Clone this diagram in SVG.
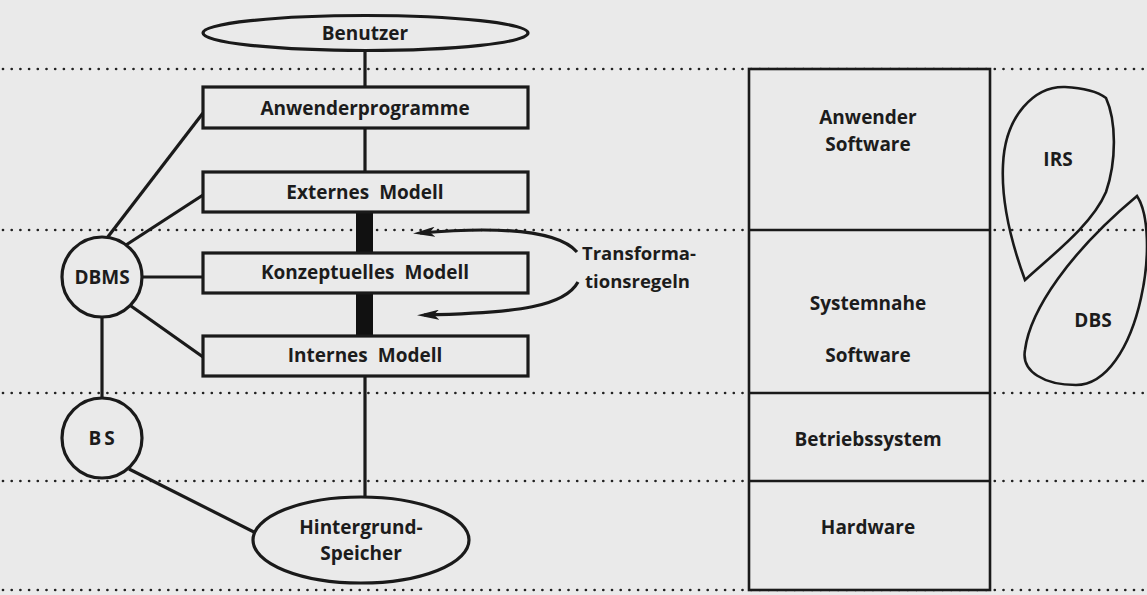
<svg xmlns="http://www.w3.org/2000/svg" width="1147" height="595" viewBox="0 0 1147 595">
  <style>
    .bg { fill: #eaeaea; }
    .dot { stroke: #222; stroke-width: 2.7; stroke-linecap: round; stroke-dasharray: 0 8.7; fill: none; }
    .box { fill: #eaeaea; stroke: #1a1a1a; stroke-width: 3.2; }
    .ln { stroke: #1a1a1a; stroke-width: 3.2; fill: none; }
    .thin { stroke: #1a1a1a; stroke-width: 2.6; fill: none; }
    .layer { fill: #eaeaea; stroke: #1a1a1a; stroke-width: 2.6; }
    .bar { fill: #111; }
    text { font-family: "Open Sans", "Liberation Sans", sans-serif; font-weight: 700; font-size: 19px; fill: #1c1c1c; text-anchor: middle; word-spacing: 5px; }
    .lt { text-anchor: start; font-size: 18.5px; }
  </style>
  <defs>
    <marker id="ah" viewBox="0 0 22 10" refX="15" refY="5" markerWidth="22" markerHeight="10" markerUnits="userSpaceOnUse" orient="auto">
      <path d="M0,5 L22,0 L17,5 L22,10 Z" transform="rotate(180 11 5)" fill="#1a1a1a"/>
    </marker>
  </defs>
  <rect class="bg" x="0" y="0" width="1147" height="595"/>

  <g id="grid">
    <line class="dot" x1="3" y1="69" x2="1147" y2="69"/>
    <line class="dot" x1="3" y1="230" x2="1147" y2="230"/>
    <line class="dot" x1="3" y1="393" x2="1147" y2="393"/>
    <line class="dot" x1="3" y1="481" x2="1147" y2="481"/>
    <line class="dot" x1="3" y1="590" x2="1147" y2="590"/>
  </g>

  <g id="connectors">
    <line class="ln" x1="365" y1="50" x2="365" y2="87"/>
    <line class="ln" x1="365" y1="128" x2="365" y2="172"/>
    <rect class="bar" x="356" y="212" width="17" height="41"/>
    <rect class="bar" x="356" y="293" width="17" height="43"/>
    <line class="ln" x1="365" y1="376" x2="365" y2="497"/>
    <line class="ln" x1="107" y1="238" x2="203" y2="113"/>
    <line class="ln" x1="126" y1="245" x2="203" y2="195"/>
    <line class="ln" x1="142" y1="277" x2="203" y2="277"/>
    <line class="ln" x1="131" y1="306" x2="203" y2="357"/>
    <line class="ln" x1="102" y1="317" x2="102" y2="398"/>
    <line class="ln" x1="129" y1="469" x2="256" y2="533"/>
    <path class="ln" d="M577 252 C556 228, 490 227, 420 233" marker-end="url(#ah)"/>
    <path class="ln" d="M578 282 C565 306, 520 313, 424 315" marker-end="url(#ah)"/>
  </g>

  <g id="benutzer">
    <ellipse class="box" cx="365.5" cy="33" rx="162.5" ry="17.5"/>
    <text x="365" y="40">Benutzer</text>
  </g>
  <g id="anwenderprogramme">
    <rect class="box" x="203" y="87" width="325" height="41"/>
    <text x="365" y="115">Anwenderprogramme</text>
  </g>
  <g id="externes-modell">
    <rect class="box" x="203" y="172" width="325" height="40"/>
    <text x="365" y="199">Externes Modell</text>
  </g>
  <g id="konzeptuelles-modell">
    <rect class="box" x="203" y="253" width="325" height="40"/>
    <text x="365" y="279">Konzeptuelles Modell</text>
  </g>
  <g id="internes-modell">
    <rect class="box" x="203" y="336" width="325" height="40"/>
    <text x="365" y="362">Internes Modell</text>
  </g>
  <g id="dbms">
    <circle class="box" cx="102" cy="277" r="40"/>
    <text x="102" y="284">DBMS</text>
  </g>
  <g id="bs">
    <circle class="box" cx="102" cy="438" r="40"/>
    <text x="103" y="445" letter-spacing="3">BS</text>
  </g>
  <g id="hintergrundspeicher">
    <ellipse class="box" cx="361" cy="540" rx="108" ry="43"/>
    <text x="361" y="534">Hintergrund-</text>
    <text x="361" y="560">Speicher</text>
  </g>
  <g id="transformationsregeln">
    <text class="lt" x="582" y="260">Transforma-</text>
    <text class="lt" x="585" y="288">tionsregeln</text>
  </g>

  <g id="schichten">
    <rect class="layer" x="749" y="69" width="241" height="521"/>
    <line class="thin" x1="749" y1="230" x2="990" y2="230"/>
    <line class="thin" x1="749" y1="393" x2="990" y2="393"/>
    <line class="thin" x1="749" y1="481" x2="990" y2="481"/>
  </g>
  <g id="anwender-software">
    <text x="868" y="124">Anwender</text>
    <text x="868" y="151">Software</text>
  </g>
  <g id="systemnahe-software">
    <text x="868" y="310">Systemnahe</text>
    <text x="868" y="362">Software</text>
  </g>
  <g id="betriebssystem">
    <text x="868" y="446">Betriebssystem</text>
  </g>
  <g id="hardware">
    <text x="868" y="534">Hardware</text>
  </g>
  <g id="irs">
    <path class="thin" d="M1025 280 C1014 250, 1001 205, 1003 165 C1005 115, 1035 86, 1065 87 C1085 88, 1098 92, 1106 98 C1116 120, 1117 160, 1106 192 C1092 225, 1052 255, 1025 280 Z"/>
    <text x="1058" y="166">IRS</text>
  </g>
  <g id="dbs">
    <path class="thin" d="M1137 196 C1149 214, 1150 258, 1141 298 C1130 348, 1106 385, 1076 385 C1045 385, 1021 372, 1025 350 C1030 310, 1070 252, 1137 196 Z"/>
    <text x="1093" y="327">DBS</text>
  </g>
</svg>
